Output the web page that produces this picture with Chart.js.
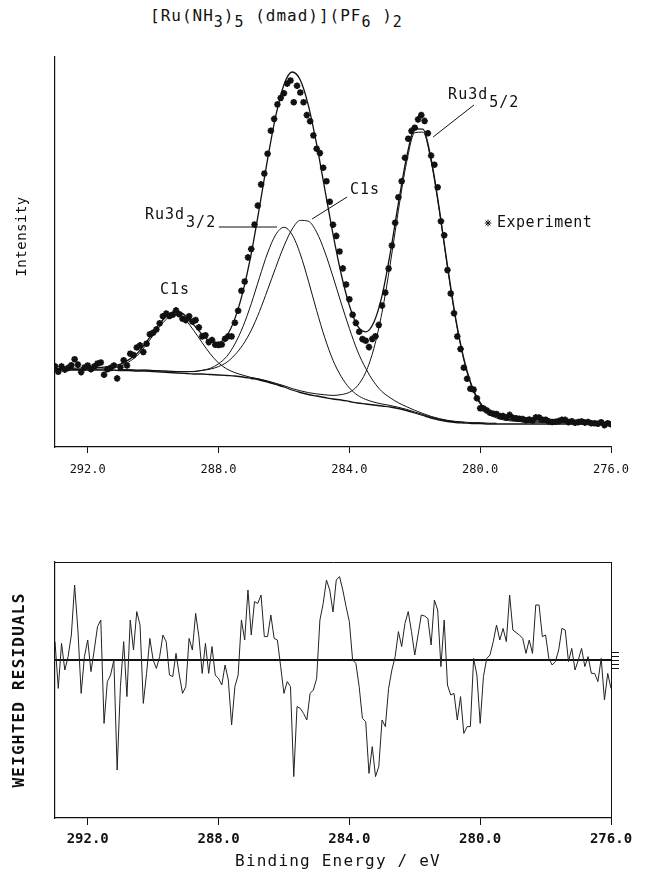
<!DOCTYPE html>
<html lang="en">
<head>
<meta charset="UTF-8">
<title>[Ru(NH3)5(dmad)](PF6)2 XPS fit</title>
<script src="https://cdn.jsdelivr.net/npm/chart.js"></script>
<style>
  body { margin: 0; background: #fff; }
  .page { position: relative; width: 645px; height: 870px; }
  .page canvas { position: absolute; left: 0; }
  #spectrum { top: 0; }
  #residuals { top: 540px; }
  .title {
    position: absolute; top: 6px; left: 150px;
    font: 16px "DejaVu Sans Mono", monospace; color: #111;
    letter-spacing: 1px; white-space: nowrap;
  }
  .title sub { font-size: 15px; vertical-align: baseline; position: relative; top: 6px; }
</style>
</head>
<body>
<div class="page">
  <div class="title">[Ru(NH<sub>3</sub>)<sub>5</sub> (dmad)](PF<sub>6</sub> )<sub>2</sub></div>
  <canvas id="spectrum" width="645" height="500"></canvas>
  <canvas id="residuals" width="645" height="330"></canvas>
</div>

<script>
// binding energy ticks (eV)
const tickEnergies = [292, 288, 284, 280, 276];

// measured spectrum, 0.1 eV steps
const expEnergy = [
  293.0, 292.9, 292.8, 292.7, 292.6, 292.5, 292.4, 292.3, 292.2, 292.1,
  292.0, 291.9, 291.8, 291.7, 291.6, 291.5, 291.4, 291.3, 291.2, 291.1,
  291.0, 290.9, 290.8, 290.7, 290.6, 290.5, 290.4, 290.3, 290.2, 290.1,
  290.0, 289.9, 289.8, 289.7, 289.6, 289.5, 289.4, 289.3, 289.2, 289.1,
  289.0, 288.9, 288.8, 288.7, 288.6, 288.5, 288.4, 288.3, 288.2, 288.1,
  288.0, 287.9, 287.8, 287.7, 287.6, 287.5, 287.4, 287.3, 287.2, 287.1,
  287.0, 286.9, 286.8, 286.7, 286.6, 286.5, 286.4, 286.3, 286.2, 286.1,
  286.0, 285.9, 285.8, 285.7, 285.6, 285.5, 285.4, 285.3, 285.2, 285.1,
  285.0, 284.9, 284.8, 284.7, 284.6, 284.5, 284.4, 284.3, 284.2, 284.1,
  284.0, 283.9, 283.8, 283.7, 283.6, 283.5, 283.4, 283.3, 283.2, 283.1,
  283.0, 282.9, 282.8, 282.7, 282.6, 282.5, 282.4, 282.3, 282.2, 282.1,
  282.0, 281.9, 281.8, 281.7, 281.6, 281.5, 281.4, 281.3, 281.2, 281.1,
  281.0, 280.9, 280.8, 280.7, 280.6, 280.5, 280.4, 280.3, 280.2, 280.1,
  280.0, 279.9, 279.8, 279.7, 279.6, 279.5, 279.4, 279.3, 279.2, 279.1,
  279.0, 278.9, 278.8, 278.7, 278.6, 278.5, 278.4, 278.3, 278.2, 278.1,
  278.0, 277.9, 277.8, 277.7, 277.6, 277.5, 277.4, 277.3, 277.2, 277.1,
  277.0, 276.9, 276.8, 276.7, 276.6, 276.5, 276.4, 276.3, 276.2, 276.1,
  276.0
];
const expIntensity = [
  80.7, 75.2, 80.6, 77.4, 79.1, 81.7, 87.8, 82.4, 74.9, 79.4,
  81.5, 77.8, 80.6, 83.5, 84.5, 72.3, 77.7, 79.1, 81.5, 68.6,
  79.6, 86.7, 81.5, 93.3, 91.9, 99.5, 101.6, 95.0, 103.3, 112.8,
  114.3, 117.6, 123.7, 130.8, 133.4, 131.1, 132.3, 136.6, 132.8, 128.3,
  126.9, 130.8, 125.4, 126.9, 119.6, 110.6, 111.7, 104.9, 107.0, 102.3,
  102.1, 102.5, 108.3, 110.7, 110.6, 124.3, 136.2, 156.2, 165.4, 189.6,
  198.0, 222.4, 241.4, 262.6, 273.4, 293.2, 316.3, 328.1, 342.6, 349.1,
  353.7, 363.4, 366.5, 344.8, 361.3, 354.5, 344.8, 331.9, 325.8, 311.6,
  298.3, 293.9, 279.3, 265.8, 245.2, 222.3, 211.1, 195.5, 178.6, 162.5,
  147.8, 132.2, 124.1, 115.3, 107.9, 106.3, 99.9, 108.1, 110.8, 122.1,
  141.4, 154.4, 178.4, 201.5, 224.3, 249.8, 265.7, 289.3, 308.3, 316.1,
  319.3, 327.6, 331.9, 326.1, 313.8, 291.4, 282.3, 259.7, 225.7, 211.7,
  176.9, 153.5, 133.7, 110.6, 98.0, 79.3, 68.2, 58.2, 57.4, 48.8,
  38.7, 38.6, 36.6, 34.2, 33.2, 33.0, 30.9, 30.9, 29.3, 32.1,
  29.2, 28.8, 28.3, 27.9, 26.7, 27.4, 26.4, 29.6, 29.5, 27.3,
  27.3, 25.6, 25.0, 25.2, 25.9, 27.3, 27.1, 24.9, 25.8, 24.3,
  24.9, 25.6, 24.4, 25.0, 23.8, 23.8, 23.2, 24.8, 21.9, 23.7,
  22.7
];
// weighted residuals of the fit, same energies
const residuals = [
  0.92, -1.42, 0.83, -0.5, 0.17, 1.25, 3.75, 1.5, -1.67, 0.17,
  1.0, -0.58, 0.5, 1.67, 2.0, -3.17, -1.08, -0.75, 0, -5.5,
  -1.33, 0.92, -1.83, 2.0, 0.5, 2.42, 1.75, -2.17, -0.67, 1.08,
  0, -0.42, 0.17, 1.25, 0.92, -0.75, -0.83, 0.33, -0.75, -1.67,
  -1.33, 1.08, 0.5, 2.33, 1.17, -0.67, 0.83, -0.67, 0.67, -0.75,
  -0.92, -1.25, -0.25, -1.0, -3.25, -1.33, -0.75, 2.0, 1.0, 3.5,
  1.25, 2.92, 2.83, 3.25, 1.17, 1.17, 2.25, 1.08, 1.0, -0.33,
  -1.67, -1.08, -1.33, -5.83, -2.33, -2.42, -2.67, -3.0, -1.67, -1.5,
  -0.92, 2.0, 2.83, 4.0, 3.5, 2.4, 4.0, 4.17, 3.5, 2.67,
  1.92, 0, -0.17, -1.33, -2.92, -3.08, -5.67, -4.33, -5.83, -5.33,
  -3.0, -3.33, -1.42, -0.5, 0.17, 1.42, 0.67, 1.83, 2.42, 1.42,
  0.25, 1.25, 2.25, 2.2, 2.08, 0.75, 3.0, 2.5, -0.33, 2.0,
  -1.25, -1.75, -1.67, -3.0, -1.83, -3.67, -3.33, -3.33, 0.08, -0.75,
  -3.17, -0.83, 0.08, 0.25, 0.92, 1.75, 1.0, 1.58, 0.92, 3.25,
  1.5, 1.37, 1.25, 1.08, 0.33, 1.0, 0.33, 2.75, 2.75, 1.17,
  1.25, 0.08, -0.25, -0.08, 0.5, 1.58, 1.5, -0.08, 0.58, -0.5,
  0, 0.58, -0.33, 0.17, -0.67, -0.67, -1.08, 0.08, -2.0, -0.67,
  -1.42
];

// fitted curves, 0.25 eV steps
const fitEnergy = [
  293.0, 292.75, 292.5, 292.25, 292.0, 291.75, 291.5, 291.25,
  291.0, 290.75, 290.5, 290.25, 290.0, 289.75, 289.5, 289.25,
  289.0, 288.75, 288.5, 288.25, 288.0, 287.75, 287.5, 287.25,
  287.0, 286.75, 286.5, 286.25, 286.0, 285.75, 285.5, 285.25,
  285.0, 284.75, 284.5, 284.25, 284.0, 283.75, 283.5, 283.25,
  283.0, 282.75, 282.5, 282.25, 282.0, 281.75, 281.5, 281.25,
  281.0, 280.75, 280.5, 280.25, 280.0, 279.75, 279.5, 279.25,
  279.0, 278.75, 278.5, 278.25, 278.0, 277.75, 277.5, 277.25,
  277.0, 276.75, 276.5, 276.25, 276.0
];
const backgroundFit = [
  77, 77, 77, 77, 77, 77, 77, 77,
  76.5, 76.5, 76, 76, 75.5, 75, 74.5, 74,
  73.5, 73, 73, 72.5, 72, 71.5, 71, 70,
  68.5, 67, 65, 62.5, 60, 57, 54.5, 52.5,
  51, 49.5, 48, 47, 45.5, 44, 43, 42,
  41, 40, 38.5, 36.5, 34, 31.5, 29, 27,
  25.5, 24.5, 24, 23.5, 23.5, 23, 23, 23,
  23, 23, 23, 23, 23, 23, 23, 23,
  23, 23, 23, 23, 23
];
const c1sHighFit = [
  77.3, 77.4, 77.4, 77.5, 77.6, 77.8, 78.2, 79.3,
  80.9, 85.0, 91.0, 100.6, 111.6, 122.4, 130.2, 131.8,
  126.5, 116.1, 104.3, 93.0, 84.1, 78.1, 74.4, 71.8,
  69.5, 67.7, 65.5, 62.9, 60.4
];
const ru3d32Fit = [
  null, null, null, null, null, null, null, null,
  77.1, 77.2, 76.7, 76.8, 76.4, 76.0, 75.7, 75.4,
  75.3, 75.4, 76.7, 78.7, 83.2, 90.5, 103.0, 120.6,
  143.2, 169.2, 194.0, 212.4, 219.7, 212.4, 192.9, 165.8,
  136.4, 109.2, 86.7, 70.5, 59.1, 51.8, 47.6, 44.9,
  43.0, 41.5, 39.7, 37.6, 35.0, 32.4, 29.8, 27.7,
  26.2, 25.1, 24.6
];
const c1sLowFit = [
  null, null, null, null, null, null, null, null,
  77.3, 77.4, 76.9, 77.0, 76.6, 76.2, 75.8, 75.5,
  75.4, 75.6, 76.6, 77.9, 80.4, 84.7, 92.1, 102.5,
  116.7, 135.4, 157.2, 179.6, 200.9, 217.8, 226.6, 225.7,
  214.8, 195.1, 170.3, 143.9, 118.6, 95.9, 78.7, 65.1,
  55.4, 49.2, 44.2, 40.3, 36.7, 33.5, 30.6, 28.4,
  26.7, 25.6, 25.0, 24.4, 24.4, 23.8, 23.8
];
const ru3d52Fit = [
  null, null, null, null, null, null, null, null,
  null, null, null, null, null, null, null, null,
  null, null, null, null, null, null, null, null,
  69.4, 68.0, 66.1, 63.7, 61.3, 58.5, 56.2, 54.4,
  53.1, 52.2, 51.6, 52.4, 54.7, 61.2, 74.7, 98.6,
  134.8, 183.0, 236.7, 284.7, 314.3, 314.9, 285.5, 236.1,
  179.4, 127.2, 86.9, 59.3, 42.9, 33.3, 29.0, 26.9,
  25.9, 25.3, 24.9, 24.7, 24.5, 24.3, 24.2, 24.1,
  24.0, 23.9, 23.9, 23.8, 23.8
];
const envelopeFit = [
  78.5, 78.6, 78.7, 78.9, 79.1, 79.4, 79.9, 81.2,
  82.9, 87.1, 93.2, 103.0, 114.3, 125.3, 133.4, 135.5,
  131.0, 121.9, 112.5, 105.5, 104.6, 111.2, 128.4, 155.8,
  193.3, 239.3, 287.8, 331.1, 362.3, 375.0, 367.0, 341.2,
  302.6, 257.7, 212.8, 173.0, 141.6, 121.1, 115.2, 124.8,
  151.4, 193.9, 243.8, 289.7, 318.1, 317.9, 288.0, 238.3,
  181.4, 129.0, 88.6, 60.8, 44.4, 34.7, 30.4, 28.2,
  27.1, 26.5, 26.0, 25.8, 25.6, 25.3, 25.2, 25.0,
  24.9, 24.8, 24.7, 24.6, 24.6
];

// residual axis ticks on the right side, around zero
const zeroTicks = [0.4, 0.2, 0, -0.2, -0.4];

const INK = '#111';
const MONO = '"DejaVu Sans Mono", monospace';

// peak labels in (eV, intensity); leaders are line ends in the same units
const peakLabels = [
  { text: 'C1s', at: [289.79, 157] },
  { text: 'Ru3d', sub: '3/2', at: [290.25, 232], leader: [[287.99, 220], [286.21, 220]] },
  { text: 'C1s', at: [283.98, 257], leader: [[284.07, 250], [285.14, 228]] },
  { text: 'Ru3d', sub: '5/2', at: [280.98, 352], leader: [[280.19, 342], [281.44, 310]] }
];
const legendAt = [279.76, 224];

const toPoints = (xs, ys) => xs.map((x, i) => ({ x, y: ys[i] ?? null }));

const markerStyle = { pointStyle: 'star', radius: 3.3, borderWidth: 1.9 };

function fitLine(values, width) {
  return {
    data: toPoints(fitEnergy, values),
    showLine: true,
    borderColor: INK,
    borderWidth: width || 1,
    pointRadius: 0,
    cubicInterpolationMode: 'monotone'
  };
}

const spectrumLabels = {
  id: 'spectrumLabels',
  afterDatasetsDraw(chart) {
    const { ctx, chartArea, scales: { x, y } } = chart;
    const px = v => x.getPixelForValue(v[0]);
    const py = v => y.getPixelForValue(v[1]);
    ctx.save();
    ctx.fillStyle = INK;
    ctx.strokeStyle = INK;
    ctx.lineWidth = 1;
    ctx.textBaseline = 'middle';
    ctx.textAlign = 'left';
    ctx.font = '15px ' + MONO;
    ctx.letterSpacing = '1px';

    peakLabels.forEach(l => {
      ctx.fillText(l.text, px(l.at), py(l.at));
      if (l.sub) {
        const w = ctx.measureText(l.text).width;
        ctx.fillText(l.sub, px(l.at) + w + 1, py(l.at) + 8);
      }
      if (l.leader) {
        ctx.beginPath();
        ctx.moveTo(px(l.leader[0]), py(l.leader[0]));
        ctx.lineTo(px(l.leader[1]), py(l.leader[1]));
        ctx.stroke();
      }
    });

    // legend entry
    const lx = px(legendAt), ly = py(legendAt);
    Chart.helpers.drawPoint(ctx, markerStyle, lx, ly);
    ctx.letterSpacing = '0.5px';
    ctx.fillText('Experiment', lx + 9, ly);

    // y axis title
    ctx.font = '14px ' + MONO;
    ctx.textAlign = 'center';
    ctx.translate(22, chartArea.top + (chartArea.bottom - chartArea.top) * 0.46);
    ctx.rotate(-Math.PI / 2);
    ctx.fillText('Intensity', 0, 0);
    ctx.restore();
  }
};

const residualTitles = {
  id: 'residualTitles',
  afterDraw(chart) {
    const { ctx, chartArea } = chart;
    ctx.save();
    ctx.fillStyle = INK;
    ctx.textAlign = 'center';
    ctx.textBaseline = 'middle';
    ctx.letterSpacing = '1.2px';
    ctx.font = '16px ' + MONO;
    ctx.fillText('Binding Energy / eV', (chartArea.left + chartArea.right) / 2 + 5, chartArea.bottom + 44);
    ctx.font = 'bold 16px ' + MONO;
    ctx.translate(20, (chartArea.top + chartArea.bottom) / 2);
    ctx.rotate(-Math.PI / 2);
    ctx.fillText('WEIGHTED RESIDUALS', 0, 0);
    ctx.restore();
  }
};

const energyAxis = (labelFont, pad, tickLen) => ({
  type: 'linear',
  min: 276,
  max: 293,
  reverse: true,
  afterBuildTicks: s => { s.ticks = tickEnergies.map(v => ({ value: v })); },
  ticks: {
    callback: v => v.toFixed(1),
    font: labelFont,
    color: INK,
    padding: pad,
    maxRotation: 0
  },
  grid: { drawOnChartArea: false, tickLength: tickLen, color: INK, lineWidth: 1 },
  border: { color: INK, width: 1.2 }
});

// top panel: spectrum with fitted components
new Chart(document.getElementById('spectrum'), {
  type: 'scatter',
  data: {
    datasets: [
      {
        label: 'Experiment',
        data: toPoints(expEnergy, expIntensity),
        showLine: false,
        pointStyle: markerStyle.pointStyle,
        pointRadius: markerStyle.radius,
        pointBorderWidth: markerStyle.borderWidth,
        borderColor: INK,
        backgroundColor: INK
      },
      fitLine(envelopeFit, 1.3),
      fitLine(backgroundFit, 1.3),
      fitLine(c1sHighFit),
      fitLine(ru3d32Fit),
      fitLine(c1sLowFit),
      fitLine(ru3d52Fit)
    ]
  },
  options: {
    responsive: false,
    animation: false,
    layout: { padding: { left: 55, right: 34, top: 57, bottom: 0 } },
    plugins: { legend: { display: false }, tooltip: { enabled: false } },
    scales: {
      x: Object.assign(energyAxis({ family: MONO, size: 12 }, 10, 6), {
        afterFit: s => { s.height = 53; }
      }),
      y: {
        min: 0,
        max: 390,
        afterFit: s => { s.width = 0; },
        ticks: { display: false },
        grid: { drawOnChartArea: false, drawTicks: false },
        border: { color: INK, width: 1.2 }
      }
    }
  },
  plugins: [spectrumLabels]
});

// bottom panel: weighted residuals
new Chart(document.getElementById('residuals'), {
  type: 'scatter',
  data: {
    datasets: [
      {
        data: toPoints(expEnergy, residuals),
        showLine: true,
        pointRadius: 0,
        borderColor: '#222',
        borderWidth: 1
      },
      {
        data: [{ x: expEnergy[0], y: 0 }, { x: expEnergy[expEnergy.length - 1], y: 0 }],
        showLine: true,
        pointRadius: 0,
        borderColor: INK,
        borderWidth: 2
      }
    ]
  },
  options: {
    responsive: false,
    animation: false,
    layout: { padding: { left: 55, right: 34, top: 22, bottom: 0 } },
    plugins: { legend: { display: false }, tooltip: { enabled: false } },
    scales: {
      x: Object.assign(energyAxis({ family: MONO, size: 14, weight: 'bold' }, 6, 7), {
        afterFit: s => { s.height = 52; }
      }),
      xTop: {
        type: 'linear', position: 'top', min: 276, max: 293, reverse: true,
        afterFit: s => { s.height = 0; },
        ticks: { display: false },
        grid: { drawOnChartArea: false, drawTicks: false },
        border: { color: INK, width: 1 }
      },
      y: {
        min: -7.9,
        max: 4.9,
        afterFit: s => { s.width = 0; },
        ticks: { display: false },
        grid: { drawOnChartArea: false, drawTicks: false },
        border: { color: INK, width: 1.2 }
      },
      yRight: {
        position: 'right',
        min: -7.9,
        max: 4.9,
        afterFit: s => { s.width = 0; },
        afterBuildTicks: s => { s.ticks = zeroTicks.map(v => ({ value: v })); },
        ticks: { display: false },
        grid: { drawOnChartArea: false, tickLength: 8, color: INK },
        border: { color: INK, width: 1 }
      }
    }
  },
  plugins: [residualTitles]
});
</script>
</body>
</html>
